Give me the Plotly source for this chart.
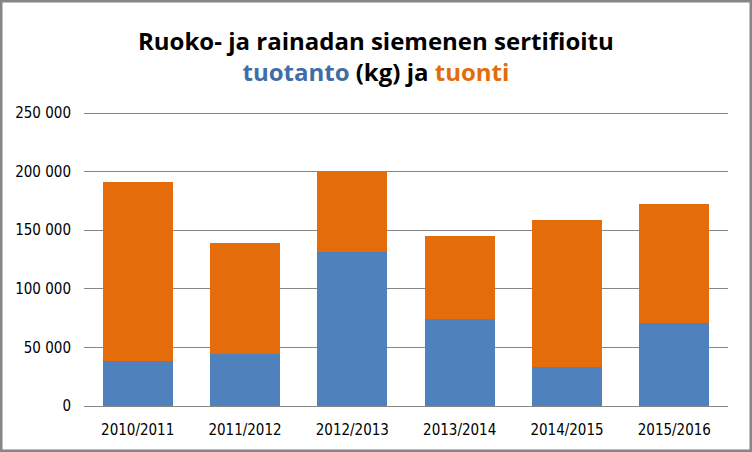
import plotly.graph_objects as go

categories = ["2010/2011", "2011/2012", "2012/2013", "2013/2014", "2014/2015", "2015/2016"]
tuotanto = [38500, 44500, 131500, 74500, 33500, 71000]
tuonti = [153000, 94500, 68500, 70500, 125500, 101500]
y_ticks = [0, 50000, 100000, 150000, 200000, 250000]

fig = go.Figure()
fig.add_trace(go.Bar(x=categories, y=tuotanto, name="tuotanto", marker=dict(color="#4F81BD", line=dict(width=0))))
fig.add_trace(go.Bar(x=categories, y=tuonti, name="tuonti", marker=dict(color="#E46C0A", line=dict(width=0))))

title = ("<b>Ruoko- ja rainadan siemenen sertifioitu</b><br>"
         "<b><span style='color:#3F6EA6'>tuotanto</span> (kg) ja "
         "<span style='color:#E46C0A'>tuonti</span></b>")

T, B, L, R = 110, 46, 84, 24
PH = 452 - T - B
PW = 752 - L - R

fig.update_layout(
    width=752, height=452,
    barmode="stack", bargap=0.35,
    showlegend=False,
    paper_bgcolor="white", plot_bgcolor="white",
    separators=", ",
    margin=dict(l=L, r=R, t=T, b=B),
    font=dict(family="DejaVu Sans Condensed, sans-serif", color="#000000"),
    annotations=[dict(text=title, x=(376 - L) / PW, y=1 + (T - 56) / PH, xref="paper", yref="paper",
                      xanchor="center", yanchor="middle", showarrow=False,
                      font=dict(family="Open Sans, sans-serif", size=24, color="#000000"))],
    shapes=[dict(type="rect", xref="paper", yref="paper",
                 x0=-(L - 1) / PW, x1=1 + (R - 1) / PW, y0=-(B - 1) / PH, y1=1 + (T - 1) / PH,
                 line=dict(color="#868686", width=3), fillcolor="rgba(0,0,0,0)", layer="above")],
)
fig.update_yaxes(range=[0, 250000 * PH / 293], tickvals=y_ticks, tickformat=",d",
                 showgrid=True, gridcolor="#868686", gridwidth=1,
                 showline=False, zeroline=False,
                 tickfont=dict(family="DejaVu Sans Condensed, sans-serif", size=15, color="#000000"),
                 ticks="", ticklen=0, ticklabelstandoff=12)
fig.update_xaxes(showline=True, linecolor="#868686", linewidth=1,
                 tickfont=dict(family="DejaVu Sans Condensed, sans-serif", size=15, color="#000000"),
                 ticks="", ticklabelstandoff=10)

fig.write_html("out.html")
